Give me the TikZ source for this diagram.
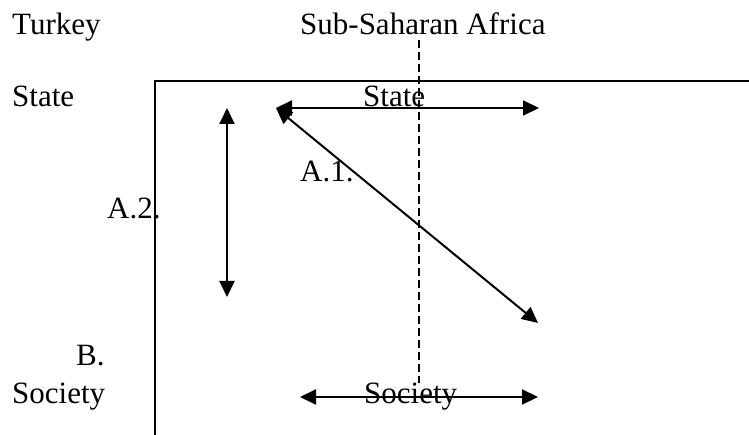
\documentclass[tikz,border=0pt]{standalone}
\usepackage{fontspec}
\setmainfont{Liberation Serif}
\usetikzlibrary{arrows.meta}
\begin{document}
\begin{tikzpicture}[x=1pt, y=-1pt, line cap=butt, line join=miter,
    lbl/.style={anchor=base west, inner sep=0pt, font=\fontsize{31}{37}\selectfont},
    dbl/.style={line width=2pt, {Triangle[length=16pt,width=15pt]}-{Triangle[length=16pt,width=15pt]}}]
  \useasboundingbox (0,0) rectangle (749,435);
  % Corners of the open frame and the divider.
  \coordinate (frameB) at (155, 435);
  \coordinate (frameC) at (155, 81);
  \coordinate (frameR) at (749, 81);
  \coordinate (divT) at (419, 40);
  \coordinate (divB) at (419, 383);
  % Arrow end points.
  \coordinate (stL) at (276, 108);
  \coordinate (stR) at (539, 108);
  \coordinate (vT) at (227, 108);
  \coordinate (vB) at (227, 297);
  \coordinate (dB) at (538, 323);
  \coordinate (soL) at (300, 397);
  \coordinate (soR) at (538, 397);
  % Frame: left side and top only.
  \draw[line width=1.8pt] (frameB) -- (frameC) -- (frameR);
  \draw[line width=1.4pt, dash pattern=on 8pt off 4pt] (divT) -- (divB);
  % Labels.
  \node[lbl] (turkey) at (12, 35) {Turkey};
  \node[lbl] (ssa) at (300, 35) {Sub-Saharan Africa};
  \node[lbl] (stateLeft) at (12, 107) {State};
  \node[lbl] (stateMid) at (363, 107) {State};
  \node[lbl] (aOne) at (300, 182) {A.1.};
  \node[lbl] (aTwo) at (107, 219) {A.2.};
  \node[lbl] (bLbl) at (76, 365) {B.};
  \node[lbl] (socLeft) at (12, 403) {Society};
  \node[lbl] (socMid) at (364, 403) {Society};
  % Arrows.
  \draw[dbl] (stL) -- (stR);
  \draw[dbl] (vT) -- (vB);
  \draw[dbl] (stL) -- (dB);
  \draw[dbl] (soL) -- (soR);
\end{tikzpicture}
\end{document}
